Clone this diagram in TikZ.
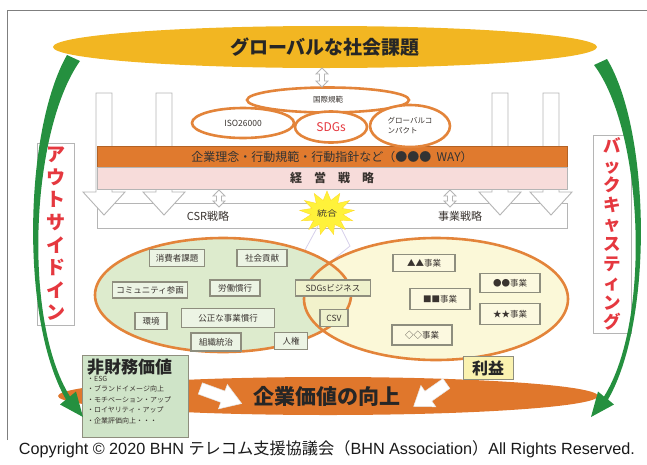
\documentclass[tikz,border=0pt]{standalone}
\usepackage{fontspec}
\setmainfont{Noto Sans CJK JP}
\newfontfamily\latf{Liberation Sans}
\usetikzlibrary{shapes.geometric}
\definecolor{gold}{HTML}{F2B622}
\definecolor{eorange}{HTML}{E3843A}
\definecolor{band}{HTML}{E07A2E}
\definecolor{pinkband}{HTML}{F7DCDA}
\definecolor{lgreen}{HTML}{DDEBCD}
\definecolor{lyellow}{HTML}{FAF5CB}
\definecolor{boxgray}{HTML}{8E8E7E}
\definecolor{garrow}{HTML}{25903F}
\definecolor{redtext}{HTML}{E5383F}
\definecolor{nfgreen}{HTML}{CFE4C8}
\definecolor{bottomorange}{HTML}{E0772C}
\definecolor{rieki}{HTML}{FAF2B0}
\definecolor{framegray}{HTML}{7F7F7F}
\definecolor{pillargray}{HTML}{B5B5B5}
\definecolor{lav}{HTML}{D6D0EA}
\definecolor{burst}{HTML}{FFF23A}
\definecolor{darktext}{HTML}{3A3430}
\tikzset{
  oval/.style={ellipse, draw=eorange, line width=2.6pt, fill=white, inner sep=0, text=darktext},
  gbox/.style={draw=boxgray, line width=1.1pt, fill=lgreen!55!white, inner sep=0, text=darktext, font=\fontsize{8.5}{10}\selectfont},
  ybox/.style={draw=boxgray, line width=1.1pt, fill=lyellow!60!white, inner sep=0, text=darktext, font=\fontsize{8.5}{10}\selectfont},
  pillar/.style={draw=pillargray, line width=0.9pt, fill=white},
  dblarrow/.style={draw=pillargray, line width=0.8pt, fill=white},
  vlabel/.style={draw=pillargray, line width=0.9pt, fill=white, inner sep=0, align=center, text=redtext},
  wharrow/.style={fill=white, draw=white!90!black, line width=0.5pt},
  garrowfill/.style={fill=garrow},
}
\begin{document}
\begin{tikzpicture}[x=1pt,y=-1pt]
\useasboundingbox (0,0) rectangle (647,464);
% frame
\draw[framegray, line width=1pt] (7,440) -- (7,10) -- (647,10);
% top ellipse
\node[ellipse, fill=gold, minimum width=544, minimum height=42, inner sep=0,
      font=\fontsize{19}{21}\selectfont\bfseries, text=black!85] (title) at (325,47) {グローバルな社会課題};
% CSR row
\node[draw=pillargray, line width=0.9pt, fill=white, minimum width=470, minimum height=25, inner sep=0] (csrrow) at (332,215.5) {};
% pillars (block arrows)
\foreach \c in {104,164,500,551} {
  \draw[pillar] (\c-8,93) -- (\c+8,93) -- (\c+8,192) -- (\c+21,192) -- (\c,215) -- (\c-21,192) -- (\c-8,192) -- cycle;
}
\node[font=\fontsize{11}{12}\selectfont, text=darktext] (csr) at (208,216) {CSR戦略};
\node[font=\fontsize{11}{12}\selectfont, text=darktext] (jigyo) at (460,216) {事業戦略};
% bands
\node[fill=band, draw=band!80!black, line width=0.5pt, minimum width=470, minimum height=21, inner sep=0,
      font=\fontsize{12}{13}\selectfont, text=black!80] (rinen) at (332,156.5) {企業理念・行動規範・行動指針など（●●●\ \ WAY）};
\node[fill=pinkband, draw=pillargray, line width=0.8pt, minimum width=470, minimum height=22, inner sep=0,
      font=\fontsize{12}{13}\selectfont\bfseries, text=darktext] (senryaku) at (332,178) {経\quad 営\quad 戦\quad 略};
% oval cluster
\node[oval, minimum width=162, minimum height=25, font=\fontsize{7.5}{8}\selectfont] (kokusai) at (328,100) {国際規範};
\node[oval, minimum width=102, minimum height=30, font=\fontsize{8.5}{9}\selectfont] (iso) at (243,123) {ISO26000};
\node[oval, minimum width=72, minimum height=31, font=\fontsize{12}{13}\selectfont, text=redtext] (sdgs) at (331,127) {SDGs};
\node[oval, minimum width=80, minimum height=42, font=\fontsize{7.5}{10}\selectfont, align=left] (gc) at (410,126) {グローバルコ\\ンパクト};
% double arrows
\foreach \cx/\ya/\yb in {322/68/87, 219/190/207, 450/190/207} {
  \draw[dblarrow] (\cx,\ya) -- (\cx+6,\ya+6) -- (\cx+2.5,\ya+6) -- (\cx+2.5,\yb-6) -- (\cx+6,\yb-6) -- (\cx,\yb)
     -- (\cx-6,\yb-6) -- (\cx-2.5,\yb-6) -- (\cx-2.5,\ya+6) -- (\cx-6,\ya+6) -- cycle;
}
% light lines under burst
\draw[lav, line width=0.8pt] (318,226) -- (305,250) -- (328,264) -- (350,246) -- (340,226);
% big ellipses
\fill[lgreen] (223,295) ellipse [x radius=128pt, y radius=57pt];
\fill[lyellow, opacity=0.75] (436,299) ellipse [x radius=132pt, y radius=61pt];
\draw[eorange, line width=2.6pt] (223,295) ellipse [x radius=128pt, y radius=57pt];
\draw[eorange, line width=2.6pt] (436,299) ellipse [x radius=132pt, y radius=61pt];
% starburst
\node[star, star points=13, star point ratio=1.7, fill=burst, draw=burst!80!orange, line width=0.4pt,
      minimum size=44pt, inner sep=0, xscale=1.25, font=\fontsize{8}{9}\selectfont, text=darktext] (togo) at (327,213) {統合};
% left boxes
\node[gbox, minimum width=55, minimum height=17] (b1) at (177,258) {消費者課題};
\node[gbox, minimum width=50, minimum height=17] (b2) at (262,258) {社会貢献};
\node[gbox, minimum width=75, minimum height=16] (b3) at (150,290) {コミュニティ参画};
\node[gbox, minimum width=50, minimum height=16] (b4) at (235,288) {労働慣行};
\node[gbox, minimum width=75, minimum height=16, fill=lgreen!40!lyellow] (b5) at (333,288) {SDGsビジネス};
\node[gbox, minimum width=28, minimum height=17, fill=lgreen!40!lyellow] (b6) at (334,318) {CSV};
\node[gbox, minimum width=32, minimum height=17] (b7) at (151,321) {環境};
\node[gbox, minimum width=93, minimum height=19] (b8) at (228,318) {公正な事業慣行};
\node[gbox, minimum width=50, minimum height=18] (b9) at (216,342) {組織統治};
\node[gbox, minimum width=33, minimum height=17] (b10) at (291,341) {人権};
% right boxes
\node[ybox, minimum width=62, minimum height=17] (r1) at (424,263) {▲▲事業};
\node[ybox, minimum width=60, minimum height=19] (r2) at (510,283) {●●事業};
\node[ybox, minimum width=60, minimum height=21] (r3) at (440,299) {■■事業};
\node[ybox, minimum width=60, minimum height=21] (r4) at (510,314) {★★事業};
\node[ybox, minimum width=60, minimum height=20] (r5) at (422,335) {◇◇事業};
% bottom ellipse
\fill[bottomorange] (328,396) ellipse [x radius=270pt, y radius=19pt];
\node[font=\fontsize{21}{23}\selectfont\bfseries, text=black!85] (kigyo) at (327,396) {企業価値の向上};
% white arrows
\begin{scope}[shift={(221,396)}, rotate=-20]
  \draw[wharrow] (-22,-6) -- (2,-6) -- (2,-13) -- (22,0) -- (2,13) -- (2,6) -- (-22,6) -- cycle;
\end{scope}
\begin{scope}[shift={(430,395)}, rotate=215]
  \draw[wharrow] (-20,-6) -- (2,-6) -- (2,-13) -- (20,0) -- (2,13) -- (2,6) -- (-20,6) -- cycle;
\end{scope}
% non-financial box
\node[draw=boxgray, line width=1pt, fill=nfgreen, minimum width=106, minimum height=82, inner sep=0] (nfbox) at (135,396) {};
\node[anchor=north west, inner sep=0, font=\fontsize{17}{19}\selectfont\bfseries, text=black!85] (nftitle) at (87,359) {非財務価値};
\node[anchor=north west, inner sep=0, align=left, font=\fontsize{7}{10.4}\selectfont, text=darktext] (nflist) at (87,376)
  {・ESG\\・ブランドイメージ向上\\・モチベーション・アップ\\・ロイヤリティ・アップ\\・企業評価向上・・・};
% profit box
\node[draw=boxgray, line width=1pt, fill=rieki, minimum width=50, minimum height=23, inner sep=0,
      font=\fontsize{16}{17}\selectfont\bfseries, text=black!85] (rieki) at (488,368) {利益};
% side labels
\node[vlabel, minimum width=37, minimum height=182, font=\fontsize{19}{22.6}\selectfont\bfseries] (outin) at (55.5,234)
  {ア\\ウ\\ト\\サ\\イ\\ド\\イ\\ン};
\node[vlabel, minimum width=38, minimum height=198, font=\fontsize{17.5}{19.6}\selectfont\bfseries] (backcast) at (612,234)
  {バ\\ッ\\ク\\キ\\ャ\\ス\\テ\\ィ\\ン\\グ};
% green arrows
\fill[garrowfill] (67,55) .. controls (24,130) and (20,320) .. (66,399.5) -- (60,404.5) -- (83,417) -- (76,391.5)
   -- (70,396.5) .. controls (22,320) and (31,130) .. (80,61) -- cycle;
\begin{scope}[shift={(674,0)}, xscale=-1]
\fill[garrowfill] (67,59) .. controls (24,130) and (20,320) .. (66,399.5) -- (60,404.5) -- (83,417) -- (76,391.5)
   -- (70,396.5) .. controls (22,320) and (31,130) .. (80,65) -- cycle;
\end{scope}
% copyright
\node[font=\fontsize{16.2}{18}\selectfont, text=black!90] (copy) at (327,449)
  {{\latf Copyright © 2020 BHN }テレコム支援協議会（{\latf BHN Association}）{\latf All Rights Reserved.}};
\end{tikzpicture}
\end{document}
